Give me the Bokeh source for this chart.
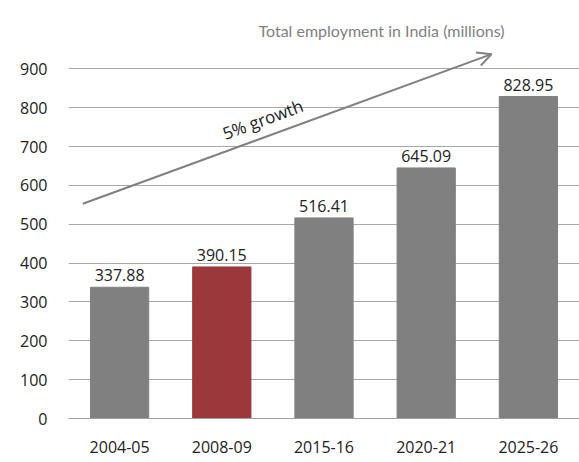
from bokeh.plotting import figure
from bokeh.models import ColumnDataSource, FactorRange, Range1d, FixedTicker, LabelSet, Arrow, OpenHead, Label
from bokeh.core.properties import value
from bokeh.embed import file_html
from bokeh.resources import INLINE

title_text = "Total employment in India (millions)"
years = ["2004-05", "2008-09", "2015-16", "2020-21", "2025-26"]
employment = [337.88, 390.15, 516.41, 645.09, 828.95]
bar_colors = ["#808080", "#9b383c", "#808080", "#808080", "#808080"]
label_texts = [f"{v:.2f}" for v in employment]
y_ticks = [0, 100, 200, 300, 400, 500, 600, 700, 800, 900]
arrow_start = (0.14, 553)
arrow_end = (4.14, 938)

src = ColumnDataSource(dict(x=years, top=employment, color=bar_colors, label=label_texts))

p = figure(width=579, height=462, x_range=FactorRange(*years, range_padding=0),
           y_range=Range1d(0, 950), output_backend="svg", toolbar_location=None,
           min_border_left=68, min_border_right=0, min_border_bottom=44, min_border_top=49)

p.title.text = title_text
p.title.text_font = "Lato"
p.title.text_font_size = "16px"
p.title.text_font_style = "normal"
p.title.text_color = "#7f7f7f"
p.title.align = "left"
p.title.offset = 190
p.title.standoff = 20

p.vbar(x="x", top="top", width=0.57, color="color", source=src)

labels = LabelSet(x="x", y="top", text="label", source=src, text_align="center",
                  text_baseline="bottom", y_offset=6, text_font=value("Open Sans"),
                  text_font_size="16px", text_color="#222222")
p.add_layout(labels)

p.add_layout(Arrow(end=OpenHead(size=14, line_color="#808080", line_width=2),
                   x_start=arrow_start[0], y_start=arrow_start[1],
                   x_end=arrow_end[0], y_end=arrow_end[1],
                   line_color="#808080", line_width=2))
p.add_layout(Label(x=1.9, y=770, text="5% growth", angle=20.2, angle_units="deg",
                   text_align="center", text_baseline="middle", text_font="Open Sans",
                   text_font_size="17px", text_color="#222222"))

p.yaxis.ticker = FixedTicker(ticks=y_ticks)
p.yaxis.axis_line_color = None
p.yaxis.major_tick_line_color = None
p.yaxis.minor_tick_line_color = None
p.yaxis.major_label_standoff = 15
p.yaxis.major_label_text_font = "Open Sans"
p.yaxis.major_label_text_font_size = "16px"
p.yaxis.major_label_text_color = "#222222"

p.xaxis.axis_line_color = "#a0a0a0"
p.xaxis.major_tick_line_color = None
p.xaxis.minor_tick_line_color = None
p.xaxis.major_label_standoff = 16
p.xaxis.major_label_text_font = "Open Sans"
p.xaxis.major_label_text_font_size = "16px"
p.xaxis.major_label_text_color = "#222222"

p.xgrid.grid_line_color = None
p.ygrid.grid_line_color = "#a8a8a8"
p.ygrid.ticker = FixedTicker(ticks=y_ticks)
p.outline_line_color = None

open("out.html", "w").write(file_html(p, INLINE))
